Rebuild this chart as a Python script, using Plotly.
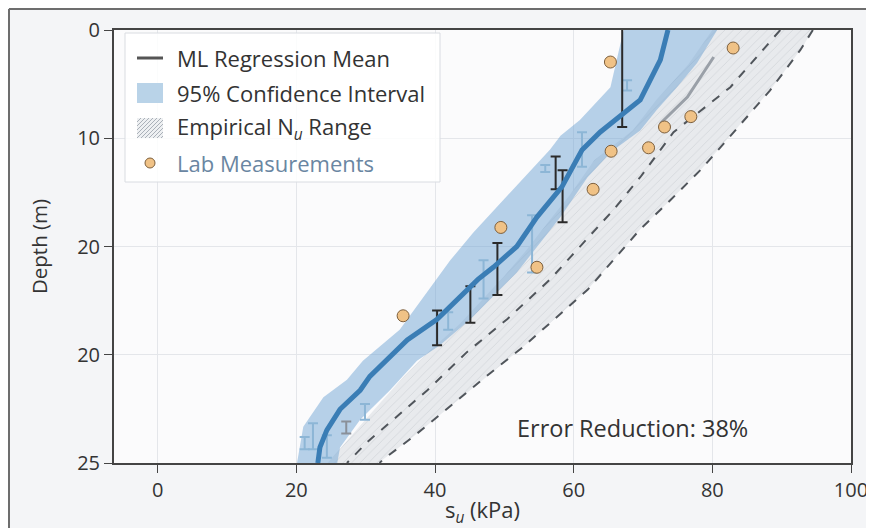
import plotly.graph_objects as go

# ---------------- data ----------------
# ML regression mean profile
mean_su = [73.6, 72.5, 69.6, 67.0, 63.8, 61.2, 58.3, 54.7, 51.8, 48.4, 46.2, 40.3, 36.0, 30.6, 29.2, 26.3, 24.4, 23.4, 23.1]
mean_depth = [0, 1.73, 4.04, 4.9, 5.9, 6.93, 9.06, 10.8, 12.5, 13.7, 14.4, 16.7, 17.9, 20.0, 20.8, 21.9, 23.1, 24.1, 25]

# 95% confidence interval edges
ci_low_su = [67.2, 65.3, 60.9, 58.1, 56.6, 50.8, 45.5, 42.2, 34.9, 29.6, 27.3, 23.9, 21.0, 20.1]
ci_low_depth = [0, 3.3, 5.2, 6.1, 6.9, 9.4, 11.7, 13.3, 17.3, 19.1, 20.2, 21.2, 22.9, 25]
ci_high_su = [80.7, 77.8, 74.9, 72.0, 69.6, 65.5, 62.0, 58.1, 54.7, 51.8, 45.1, 40.7, 37.4, 33.5, 29.2, 26.3, 25.9]
ci_high_depth = [0, 1.9, 3.3, 4.6, 5.8, 7.0, 8.5, 10.8, 12.5, 14.0, 16.7, 18.2, 19.1, 20.8, 22.5, 24.1, 25]

# empirical Nu range
emp_low_su = [80.0, 76.5, 72.0, 68.5, 63.0, 59.5, 56.5, 53.0, 50.0, 43.5, 39.0, 35.5, 31.5, 27.5, 24.5]
emp_low_depth = [0, 2, 4, 5.8, 7.5, 9.5, 11, 12.8, 14.2, 17, 18.6, 20, 21.8, 23.6, 25]
emp_high_su = [94.5, 92.7, 88.3, 83.0, 78.5, 74.0, 69.6, 62.0, 52.7, 48.0, 41.7, 36.8, 32.5, 32.0]
emp_high_depth = [0, 1.15, 3.5, 5.9, 8.0, 9.8, 11.5, 15.0, 18.3, 19.8, 21.9, 23.5, 24.8, 25]

# middle dashed (empirical central) line
emp_mid_su = [89.8, 82.6, 74.4, 69.6, 65.7, 61.4, 56.6, 50.4, 44.6, 38.9, 34.5, 30.2, 27.3]
emp_mid_depth = [0, 3.3, 5.9, 8.5, 10.4, 12.3, 14.4, 16.7, 18.6, 20.8, 22.3, 23.8, 25]

# secondary (gray) regression segment
gray_su = [80.2, 76.4, 72.5]
gray_depth = [1.56, 3.87, 5.4]

# lab measurements
lab_su = [65.3, 83.0, 76.9, 73.1, 70.8, 65.4, 62.8, 49.5, 54.7, 35.4]
lab_depth = [1.85, 1.04, 5.0, 5.6, 6.8, 7.0, 9.2, 11.4, 13.7, 16.5]

# error bars (dark)
ebd_su = [67.0, 57.4, 58.4, 49.0, 45.1, 40.3]
ebd_top = [-1.0, 7.3, 8.1, 12.3, 14.8, 16.2]
ebd_bot = [5.6, 9.2, 11.1, 15.3, 16.9, 18.2]
# error bars (light blue)
ebl_su = [61.2, 54.0, 47.0, 41.9, 29.9, 22.4, 24.4, 21.2, 55.9, 67.7]
ebl_top = [5.9, 10.7, 13.3, 16.3, 21.6, 22.7, 23.4, 23.5, 7.8, 2.9]
ebl_bot = [7.9, 14.0, 15.5, 17.3, 22.5, 24.2, 24.7, 24.2, 8.2, 3.5]
# error bars (gray)
ebg_su = [27.2]
ebg_top = [22.6]
ebg_bot = [23.3]

x_ticks = [0, 20, 40, 60, 80, 100]
y_tick_vals = [0, 6.25, 12.5, 18.75, 25]
y_tick_text = ["0", "10", "20", "20", "25"]

legend_labels = ["ML Regression Mean", "95% Confidence Interval",
                 "Empirical N<sub><i>u</i></sub> Range", "Lab Measurements"]

FONT = "Open Sans"
TXT = "#333333"

# the page body adds an 8 px offset; figure is sized to fill the rest of the window
OFF = 8
W, H = 874 - OFF, 528 - OFF
ML, MR, MT, MB = 114 - OFF, 23, 30 - OFF, 65
PW, PH = W - ML - MR, H - MT - MB


def px(x):
    """page pixel x -> paper coordinate"""
    return (x - OFF - ML) / PW


def py(y):
    """page pixel y -> paper coordinate"""
    return (H - MB - (y - OFF)) / PH


fig = go.Figure()

# empirical hatched band
fig.add_trace(go.Scatter(
    x=emp_low_su + emp_high_su[::-1],
    y=emp_low_depth + emp_high_depth[::-1],
    mode="lines", line=dict(width=0), fill="toself",
    fillcolor="#e7e9ec",
    fillpattern=dict(shape="/", fgcolor="#c3c7cc", bgcolor="#e8eaed", size=6, solidity=0.15),
    showlegend=False, hoverinfo="skip"))

# dashed lines
fig.add_trace(go.Scatter(x=emp_mid_su, y=emp_mid_depth, mode="lines",
                         line=dict(color="#50555b", width=2, dash="dash"), showlegend=False))
fig.add_trace(go.Scatter(x=emp_high_su, y=emp_high_depth, mode="lines",
                         line=dict(color="#50555b", width=2, dash="dash"), showlegend=False))

# confidence interval band
fig.add_trace(go.Scatter(
    x=ci_low_su + ci_high_su[::-1],
    y=ci_low_depth + ci_high_depth[::-1],
    mode="lines", line=dict(width=0), fill="toself",
    fillcolor="rgba(105,160,210,0.47)",
    showlegend=False, hoverinfo="skip"))

# gray regression segment
fig.add_trace(go.Scatter(x=gray_su, y=gray_depth, mode="lines",
                         line=dict(color="#9aa0a8", width=3), showlegend=False))


def add_eb(xs, tops, bots, color, width):
    mids = [(t + b) / 2 for t, b in zip(tops, bots)]
    half = [(b - t) / 2 for t, b in zip(tops, bots)]
    fig.add_trace(go.Scatter(
        x=xs, y=mids, mode="markers", marker=dict(size=1, opacity=0),
        error_y=dict(type="data", array=half, arrayminus=half, symmetric=False,
                     color=color, thickness=width, width=5),
        showlegend=False, hoverinfo="skip"))


add_eb(ebl_su, ebl_top, ebl_bot, "#8db6d6", 2)
add_eb(ebg_su, ebg_top, ebg_bot, "#8a9099", 2)
add_eb(ebd_su, ebd_top, ebd_bot, "#2a2a2a", 2)

# mean line
fig.add_trace(go.Scatter(x=mean_su, y=mean_depth, mode="lines",
                         line=dict(color="#3a7db5", width=5), showlegend=False))

# lab measurements
fig.add_trace(go.Scatter(x=lab_su, y=lab_depth, mode="markers",
                         marker=dict(size=12, color="#f0c286", line=dict(color="#7d5f3c", width=1)),
                         showlegend=False))

fig.add_annotation(x=px(632), y=py(428), xref="paper", yref="paper", xanchor="center", yanchor="middle",
                   text="Error Reduction: 38%", showarrow=False,
                   font=dict(family=FONT, size=23.5, color=TXT))

shapes = []
# outer frame (top and left edges)
shapes.append(dict(type="line", xref="paper", yref="paper", x0=px(9), x1=px(880), y0=py(9), y1=py(9),
                   line=dict(color="#6d6d6d", width=2), layer="above"))
shapes.append(dict(type="line", xref="paper", yref="paper", x0=px(9), x1=px(9), y0=py(9), y1=py(540),
                   line=dict(color="#6d6d6d", width=2), layer="above"))

# ---- manual legend ----
shapes.append(dict(type="rect", xref="paper", yref="paper", x0=px(125), x1=px(440), y0=py(33), y1=py(182),
                   fillcolor="rgba(255,255,255,0.85)", line=dict(color="#d9dce1", width=1), layer="above"))
item_y = [58, 93, 128, 163]
sw_x0, sw_x1 = 137, 163
# line swatch
shapes.append(dict(type="line", xref="paper", yref="paper", x0=px(sw_x0), x1=px(sw_x1),
                   y0=py(item_y[0]), y1=py(item_y[0]), line=dict(color="#555555", width=3), layer="above"))
# CI swatch
shapes.append(dict(type="rect", xref="paper", yref="paper", x0=px(sw_x0), x1=px(sw_x1),
                   y0=py(item_y[1] - 10), y1=py(item_y[1] + 10), fillcolor="#b9d3e8",
                   line=dict(width=0), layer="above"))
# hatched swatch
hy0, hy1 = item_y[2] + 10, item_y[2] - 10  # bottom, top (pixels)
shapes.append(dict(type="rect", xref="paper", yref="paper", x0=px(sw_x0), x1=px(sw_x1),
                   y0=py(hy0), y1=py(hy1), fillcolor="#eef0f2", line=dict(width=0), layer="above"))
hh = hy0 - hy1
for k in range(-hh, sw_x1 - sw_x0, 4):
    xa, ya = sw_x0 + k, hy0
    xb, yb = sw_x0 + k + hh, hy1
    if xa < sw_x0:
        ya = hy0 - (sw_x0 - xa)
        xa = sw_x0
    if xb > sw_x1:
        yb = hy1 + (xb - sw_x1)
        xb = sw_x1
    shapes.append(dict(type="line", xref="paper", yref="paper", x0=px(xa), x1=px(xb), y0=py(ya), y1=py(yb),
                       line=dict(color="#aab1b9", width=1), layer="above"))
# marker swatch
shapes.append(dict(type="circle", xref="paper", yref="paper", x0=px(145), x1=px(155),
                   y0=py(item_y[3] + 5), y1=py(item_y[3] - 5), fillcolor="#f0c286",
                   line=dict(color="#7d5f3c", width=1), layer="above"))

legend_colors = [TXT, TXT, TXT, "#6a86a2"]
for lab, yy, col in zip(legend_labels, item_y, legend_colors):
    fig.add_annotation(x=px(175), y=py(yy), xref="paper", yref="paper", xanchor="left", yanchor="middle",
                       text=lab, showarrow=False, font=dict(family=FONT, size=22, color=col))

fig.update_layout(
    width=W, height=H,
    margin=dict(l=ML, r=MR, t=MT, b=MB),
    paper_bgcolor="#f4f5f7", plot_bgcolor="#fbfbfc",
    font=dict(family=FONT, size=20, color=TXT),
    showlegend=False,
    shapes=shapes,
    xaxis=dict(range=[-6.3, 100], tickvals=x_ticks, showgrid=True, gridcolor="#e4e6ea",
               zeroline=False, showline=True, linecolor="#444", linewidth=2, mirror=True,
               ticks="outside", ticklen=8, tickcolor="#444", automargin=False,
               title=dict(text="s<sub><i>u</i></sub> (kPa)", font=dict(size=22), standoff=2)),
    yaxis=dict(range=[25, 0], tickvals=y_tick_vals, ticktext=y_tick_text, showgrid=True,
               gridcolor="#e4e6ea", zeroline=False, showline=True, linecolor="#444",
               linewidth=2, mirror=True, ticks="outside", ticklen=8, tickcolor="#444",
               automargin=False,
               title=dict(text="Depth (m)", font=dict(size=20.5), standoff=24)),
)

fig.write_html("out.html")
